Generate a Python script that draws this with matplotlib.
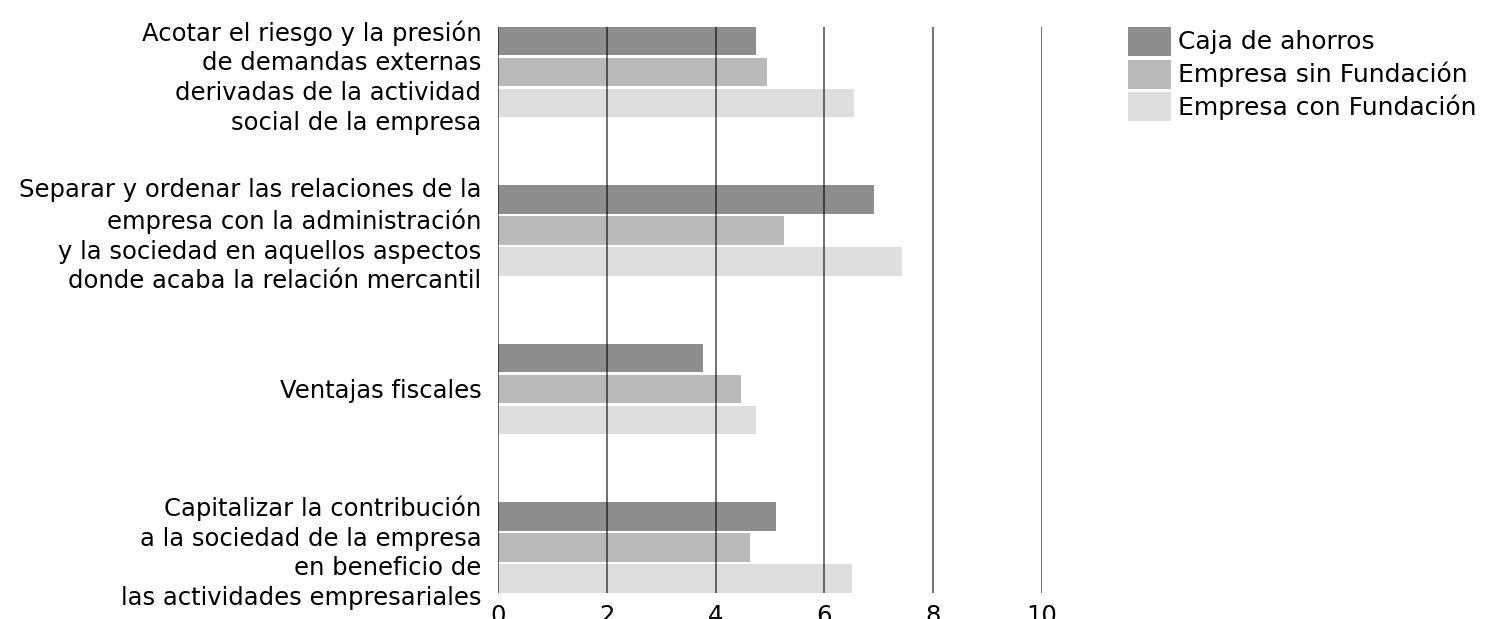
import numpy as np
import matplotlib
matplotlib.use('Agg')
import matplotlib.pyplot as plt
from matplotlib.patches import Rectangle
from matplotlib.transforms import ScaledTranslation

plt.rcParams['font.family'] = ['DejaVu Sans']

categorias = ['Acotar el riesgo y la presión\nde demandas externas\nderivadas de la actividad\nsocial de la empresa',
              'Separar y ordenar las relaciones de la\nempresa con la administración\ny la sociedad en aquellos aspectos\ndonde acaba la relación mercantil',
              'Ventajas fiscales',
              'Capitalizar la contribución\na la sociedad de la empresa\nen beneficio de\nlas actividades empresariales']
series = ['Caja de ahorros', 'Empresa sin Fundación', 'Empresa con Fundación']
caja = [4.75, 6.92, 3.76, 5.11]
sin_fund = [4.95, 5.25, 4.46, 4.63]
con_fund = [6.54, 7.42, 4.75, 6.50]
colores = ['#8e8e8e', '#bababa', '#dedede']
ticks_x = [0, 2, 4, 6, 8, 10]

W, H = 1487, 619
fig = plt.figure(figsize=(W / 100, H / 100), dpi=100)
ax = fig.add_axes([498 / W, 1 - 592.5 / H, 544 / W, 565.5 / H])

y = np.arange(len(categorias))
paso = 0.1956
alto = 0.177
for i, (vals, col) in enumerate(zip([caja, sin_fund, con_fund], colores)):
    ax.barh(y + (i - 1) * paso, vals, height=alto, color=col, label=series[i], zorder=1)

ax.set_xlim(0, 10)
ax.set_ylim(3 + paso + alto / 2, -paso - alto / 2)
ax.set_xticks(ticks_x)
ax.set_yticks(y)
ax.set_yticklabels(categorias, fontsize=17.5, linespacing=1.3, ha='right')
# etiquetas un poco mas abajo, como en el original
for lab, dy in zip(ax.get_yticklabels(), [3, 4, 0, 9]):
    lab.set_transform(lab.get_transform() + ScaledTranslation(0, -dy / 100, fig.dpi_scale_trans))
ax.tick_params(axis='x', length=0, pad=8, labelsize=17.5)
ax.tick_params(axis='y', length=0, pad=12)
ax.grid(axis='x', color='black', alpha=0.6, lw=1.3, zorder=3)
ax.set_axisbelow(False)
for s in ax.spines.values():
    s.set_visible(False)

# leyenda dibujada a mano
for k, (nombre, col) in enumerate(zip(series, colores)):
    top = 27 + k * 32.5
    fig.patches.append(Rectangle((1128 / W, 1 - (top + 29) / H), 43 / W, 29 / H,
                                 transform=fig.transFigure, facecolor=col, edgecolor='none'))
    fig.text(1178 / W, 1 - (top + 15) / H, nombre, fontsize=18, va='center', ha='left')

fig.savefig('out.png', dpi=100)
